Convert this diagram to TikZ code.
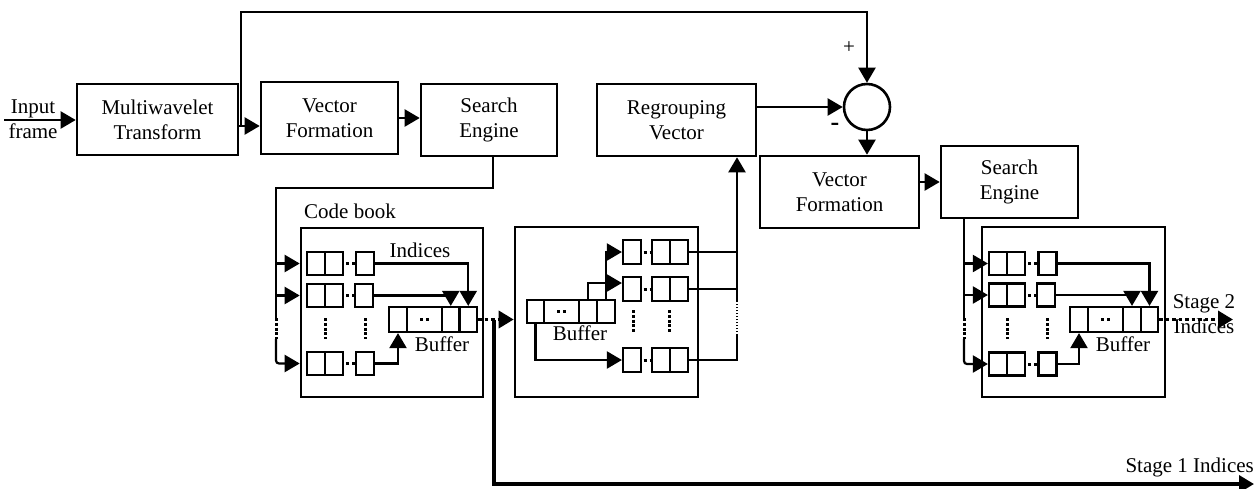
\documentclass[tikz,border=0pt]{standalone}
\usepackage{fontspec}
\setmainfont{Liberation Serif}
\usetikzlibrary{arrows.meta,calc}

% three cells of one code-book row: a pair and a single cell
\newcommand\cbrow[6]{%
  \node[cell,minimum height=#6] (#1a) at (#2,#5) {};
  \node[cell,minimum height=#6] (#1b) at (#3,#5) {};
  \node[cell,minimum height=#6] (#1s) at (#4,#5) {};
}

\begin{document}
\begin{tikzpicture}[x=1pt,y=-1pt,
  lbl/.style={font=\fontsize{21}{25}\selectfont, inner sep=0pt, align=center},
  blk/.style={draw, line width=2.6pt, lbl, minimum height=72pt},
  cell/.style={draw, line width=2.2pt, inner sep=0pt, minimum width=18pt, minimum height=23pt},
  frame/.style={draw, line width=2.6pt, inner sep=0pt},
  conn/.style={line width=2.2pt},
  arr/.style={-{Triangle[length=15pt,width=17pt]}},
  hdots/.style={line width=3pt, dash pattern=on 3pt off 3pt},
  vdots/.style={line width=3pt, dash pattern=on 3pt off 1.8pt},
  bigdots/.style={line width=3.5pt, dash pattern=on 3.5pt off 3pt},
  fine/.style={line width=1.5pt, dash pattern=on 1.5pt off 1.5pt}]
\useasboundingbox (0,0) rectangle (1256,488);

% ---------- processing blocks ----------
\node[blk, minimum width=161pt, minimum height=71pt] (MW) at (157.5,119.5) {Multiwavelet\\Transform};
\node[blk, minimum width=137pt] (VF1) at (329.5,118) {Vector\\Formation};
\node[blk, minimum width=136pt] (SE1) at (489,120) {Search\\Engine};
\node[blk, minimum width=159pt] (RV) at (676.5,120) {Regrouping\\Vector};
\node[draw, circle, line width=2.6pt, minimum size=46pt, inner sep=0pt] (SUM) at (867,107) {};
\node[blk, minimum width=159pt] (VF2) at (839.5,192) {Vector\\Formation};
\node[blk, minimum width=137pt] (SE2) at (1009.5,182) {Search\\Engine};

% ---------- code book frames ----------
\node[frame, minimum width=182pt, minimum height=169pt] (CB1) at (392,312.5) {};
\node[frame, minimum width=183pt, minimum height=170pt] (CB2) at (606.5,312) {};
\node[frame, minimum width=183pt, minimum height=170pt] (CB3) at (1073.5,312) {};

% ---------- labels ----------
\node[lbl] (inL) at (33,119) {Input\\frame};
\node[lbl, anchor=base] (cbL) at (350,218) {Code book};
\node[lbl, anchor=base] (ixL) at (420,257) {Indices};
\node[lbl, anchor=base] (bfL1) at (442,351) {Buffer};
\node[lbl, anchor=base] (bfL2) at (580,340) {Buffer};
\node[lbl, anchor=base] (bfL3) at (1123,351) {Buffer};
\node[lbl, anchor=base] (s2a) at (1204,308) {Stage 2};
\node[lbl, anchor=base] (s2b) at (1204,333) {Indices};
\node[lbl, anchor=base east] (s1L) at (1254,472) {Stage 1 Indices};
\node[lbl] (plus) at (849,48) {+};
\node[lbl, font=\bfseries\fontsize{26}{26}\selectfont] (minus) at (835,127) {-};

% ---------- first code book ----------
\cbrow{c1r1}{316}{334}{365}{263.5}{23pt}
\cbrow{c1r2}{316}{334}{364}{295.5}{23pt}
\cbrow{c1r3}{316}{334}{365}{363.5}{23pt}
\foreach \r in {c1r1,c1r2,c1r3}
  \draw[hdots] ([xshift=2pt]\r b.east) -- ++(9,0);
\draw[vdots] (325,318) -- (325,339);
\draw[vdots] (365,318) -- (365,339);
\node[cell, minimum height=25pt] (b11) at (398,319.5) {};
\node[cell, minimum height=25pt, minimum width=35pt] (b12) at (424.5,319.5) {};
\node[cell, minimum height=25pt, minimum width=17.5pt] (b13) at (450.75,319.5) {};
\node[cell, minimum height=25pt, minimum width=17.5pt] (b14) at (468.25,319.5) {};
\draw[hdots] ([xshift=-4.5pt]b12.center) -- ++(9,0);
\draw[conn,arr] (c1r1s.east) -| (b14.north);
\draw[conn,arr] (c1r2s.east) -| (b13.north);
\draw[conn,arr] (c1r3s.east) -| (b11.south);

% ---------- second code book ----------
\node[cell, minimum height=23pt, minimum width=17pt] (b21) at (535.5,311.5) {};
\node[cell, minimum height=23pt, minimum width=35pt] (b22) at (561.5,311.5) {};
\node[cell, minimum height=23pt] (b23) at (588,311.5) {};
\node[cell, minimum height=23pt] (b24) at (606,311.5) {};
\draw[hdots] ([xshift=-4.5pt]b22.center) -- ++(9,0);
\cbrow{c2r1}{661}{679}{632}{252}{24pt}
\cbrow{c2r2}{661}{679}{632}{289}{24pt}
\cbrow{c2r3}{661}{679}{632}{360}{24pt}
\foreach \r in {c2r1,c2r2,c2r3}
  \draw[hdots] ([xshift=1.5pt]\r s.east) -- ++(9,0);
\draw[vdots] (633,310) -- (633,332);
\draw[vdots] (669,310) -- (669,332);
\draw[conn,arr] (b24.north) |- (c2r1s.west);
\draw[conn,arr] (b23.north) |- ($(c2r2s.west)+(0,-6)$);
\draw[conn,arr] (b21.south) |- (c2r3s.west);
\coordinate (colA) at (737,302);
\coordinate (colB) at (737,335);
\draw[conn] (c2r1b.east) -- (c2r1b.east -| colA);
\draw[conn] (c2r2b.east) -- (c2r2b.east -| colA);
\draw[conn] (c2r3b.east) -| (colB);
\draw[fine] (colB) -- (colA);
\draw[conn,arr] (colA) -- (RV.south -| colA);

% ---------- third code book ----------
\cbrow{c3r1}{998}{1016}{1047.5}{263.5}{23pt}
\cbrow{c3r2}{998}{1016}{1046}{295}{23pt}
\cbrow{c3r3}{998}{1016}{1047.5}{364}{23pt}
\foreach \r in {c3r1,c3r2,c3r3}
  \draw[hdots] ([xshift=2pt]\r b.east) -- ++(9,0);
\draw[vdots] (1007,318) -- (1007,339);
\draw[vdots] (1047,318) -- (1047,339);
\node[cell, minimum height=25pt] (b31) at (1079,319.5) {};
\node[cell, minimum height=25pt, minimum width=35pt] (b32) at (1105.5,319.5) {};
\node[cell, minimum height=25pt] (b33) at (1132,319.5) {};
\node[cell, minimum height=25pt, minimum width=17pt] (b34) at (1149.5,319.5) {};
\draw[hdots] ([xshift=-4.5pt]b32.center) -- ++(9,0);
\draw[conn,arr] (c3r1s.east) -| (b34.north);
\draw[conn,arr] (c3r2s.east) -| (b33.north);
\draw[conn,arr] (c3r3s.east) -| (b31.south);

% ---------- main signal path ----------
\coordinate (inp) at (4,120);
\coordinate (split) at (241,126);
\draw[conn,arr] (inp) -- (inp -| MW.west);
\draw[conn,arr] (MW.east |- split) -- (VF1.west |- split);
\draw[conn,arr] (split) -- (241,12) -| (SUM.north);
\draw[conn,arr] (VF1.east) -- (VF1.east -| SE1.west);
\draw[conn,arr] (RV.east |- SUM.west) -- (SUM.west);
\draw[conn,arr] (SUM.south) -- (SUM.south |- VF2.north);
\draw[conn,arr] (VF2.east |- SE2.west) -- (SE2.west);

% search engine 1 feeding the first code book
\coordinate (t1) at (493,188);
\coordinate (f1) at (276,188);
\coordinate (f1a) at (276,318);
\coordinate (f1b) at (276,339);
\draw[conn] (SE1.south -| t1) -- (t1) -- (f1) -- (f1a);
\draw[vdots] (f1a) -- (f1b);
\draw[conn,arr] (f1 |- c1r1a.west) -- (c1r1a.west -| CB1.west);
\draw[conn,arr] (f1 |- c1r2a.west) -- (c1r2a.west -| CB1.west);
\draw[conn,arr,rounded corners=3pt] (f1b) |- (c1r3a.west -| CB1.west);

% search engine 2 feeding the third code book
\coordinate (f3) at (964,218);
\coordinate (f3a) at (964,318);
\coordinate (f3b) at (964,339);
\draw[conn] (f3) -- (f3a);
\draw[vdots] (f3a) -- (f3b);
\draw[conn,arr] (f3 |- c3r1a.west) -- (c3r1a.west);
\draw[conn,arr] (f3 |- c3r2a.west) -- (c3r2a.west);
\draw[conn,arr,rounded corners=3pt] (f3b) |- (c3r3a.west);

% buffer outputs
\draw[bigdots,arr] (b14.east) -- (b14.east -| CB2.west);
\coordinate (s1a) at (494,319.5);
\coordinate (s1b) at (494,484);
\coordinate (s1c) at (1254,484);
\draw[line width=3.5pt, arr] (s1a) -- (s1b) -- (s1c);
\coordinate (s2end) at (1233,319.5);
\draw[bigdots,arr] (b34.east) -- (s2end);
\end{tikzpicture}
\end{document}
